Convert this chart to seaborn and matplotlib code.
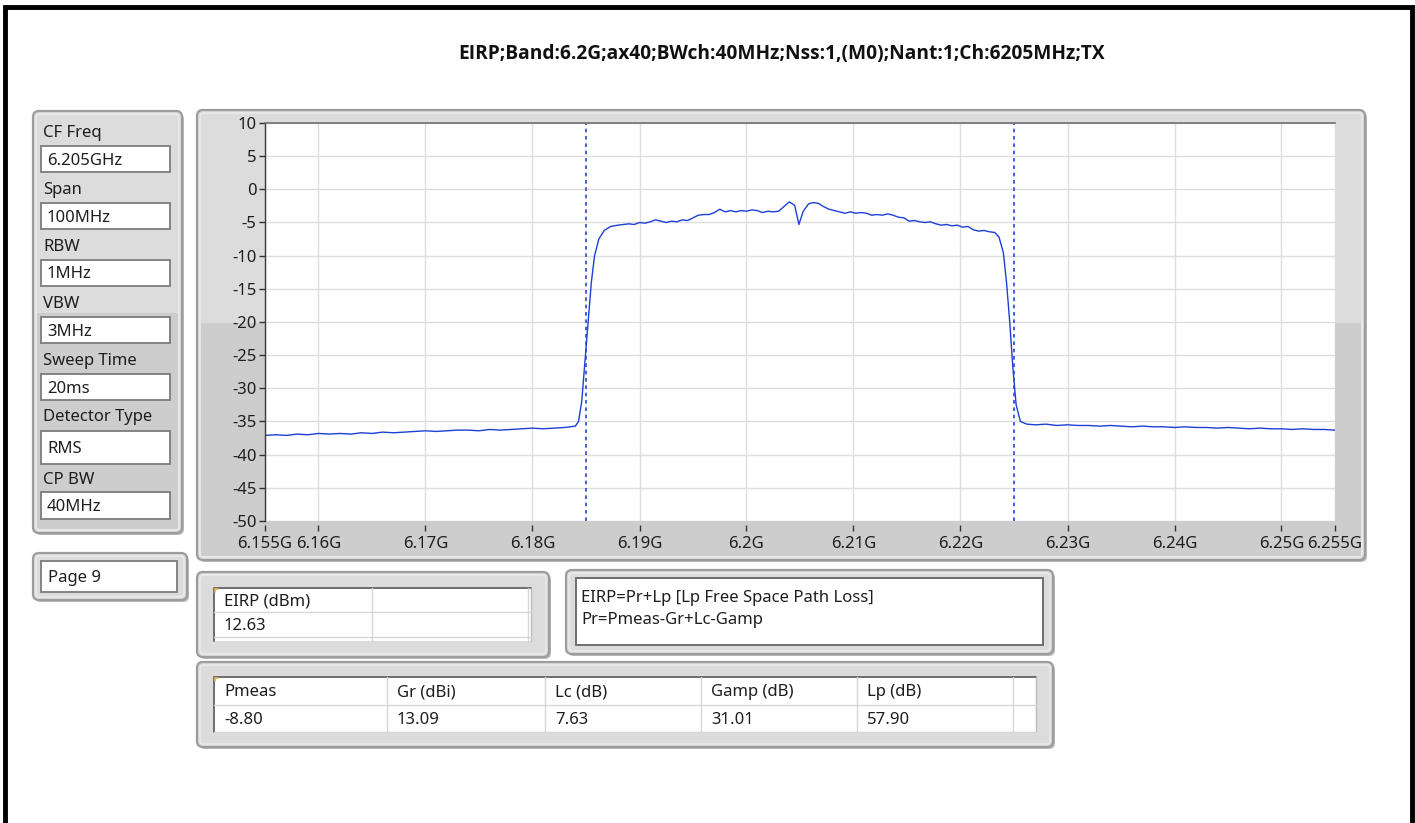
import pandas as pd
import seaborn as sns
import matplotlib.pyplot as plt
from matplotlib.patches import FancyBboxPatch, Rectangle

# ---- data ----
title = "EIRP;Band:6.2G;ax40;BWch:40MHz;Nss:1,(M0);Nant:1;Ch:6205MHz;TX"

param_labels = ["CF Freq", "Span", "RBW", "VBW", "Sweep Time", "Detector Type", "CP BW"]
param_values = ["6.205GHz", "100MHz", "1MHz", "3MHz", "20ms", "RMS", "40MHz"]
page_label = "Page 9"

eirp_header = ["EIRP (dBm)", ""]
eirp_values = ["12.63", ""]
formula_lines = ["EIRP=Pr+Lp [Lp Free Space Path Loss]", "Pr=Pmeas-Gr+Lc-Gamp"]
budget_header = ["Pmeas", "Gr (dBi)", "Lc (dB)", "Gamp (dB)", "Lp (dB)", ""]
budget_values = ["-8.80", "13.09", "7.63", "31.01", "57.90", ""]

y_ticks = [10, 5, 0, -5, -10, -15, -20, -25, -30, -35, -40, -45, -50]
x_ticks = [6.155, 6.16, 6.17, 6.18, 6.19, 6.2, 6.21, 6.22, 6.23, 6.24, 6.25, 6.255]
x_labels = ["6.155G", "6.16G", "6.17G", "6.18G", "6.19G", "6.2G", "6.21G",
            "6.22G", "6.23G", "6.24G", "6.25G", "6.255G"]
channel_edges = [6.185, 6.225]

# spectrum trace (GHz, dBm)
trace_freq = [
    6.155, 6.156, 6.157, 6.158, 6.159, 6.160, 6.161, 6.162, 6.163, 6.164,
    6.165, 6.166, 6.167, 6.168, 6.169, 6.170, 6.171, 6.172, 6.173, 6.174,
    6.175, 6.176, 6.177, 6.178, 6.179, 6.180, 6.181, 6.182, 6.183, 6.184,
    6.1843, 6.1846, 6.1849, 6.1852, 6.1855, 6.1858, 6.1862, 6.1867, 6.1873,
    6.1880, 6.1885, 6.1890, 6.1895, 6.1900, 6.1905, 6.1910, 6.1915, 6.1920, 6.1925,
    6.1930, 6.1935, 6.1940, 6.1945, 6.1950, 6.1955, 6.1960, 6.1965, 6.1970, 6.1975,
    6.1980, 6.1985, 6.1990, 6.1995, 6.2000, 6.2005, 6.2010, 6.2015, 6.2020, 6.2025,
    6.2030, 6.2035, 6.2040, 6.2045, 6.2049, 6.2053, 6.2058, 6.2062, 6.2067, 6.2072,
    6.2077, 6.2082, 6.2087, 6.2092, 6.2097, 6.2102, 6.2107, 6.2112, 6.2117, 6.2122,
    6.2127, 6.2132, 6.2137, 6.2142, 6.2147, 6.2152, 6.2157, 6.2162, 6.2167, 6.2172,
    6.2177, 6.2182, 6.2187, 6.2192, 6.2197, 6.2202, 6.2207, 6.2212, 6.2217, 6.2222,
    6.2227, 6.2232, 6.2236,
    6.2240, 6.2243, 6.2246, 6.2249, 6.2252, 6.2256, 6.2262,
    6.227, 6.228, 6.229, 6.230, 6.231, 6.232, 6.233, 6.234, 6.235, 6.236,
    6.237, 6.238, 6.239, 6.240, 6.241, 6.242, 6.243, 6.244, 6.245, 6.246,
    6.247, 6.248, 6.249, 6.250, 6.251, 6.252, 6.253, 6.254, 6.255,
]
trace_db = [
    -37.1, -37.0, -37.1, -36.9, -37.0, -36.8, -36.9, -36.8, -36.9, -36.7,
    -36.8, -36.6, -36.7, -36.6, -36.5, -36.4, -36.5, -36.4, -36.3, -36.3,
    -36.4, -36.2, -36.3, -36.2, -36.1, -36.0, -36.1, -36.0, -35.9, -35.7,
    -35.0, -32.0, -26.0, -20.0, -14.0, -10.0, -7.5, -6.2, -5.6,
    -5.4, -5.3, -5.2, -5.3, -5.0, -5.1, -4.9, -4.6, -4.8, -5.0,
    -4.8, -4.9, -4.6, -4.7, -4.3, -3.9, -3.8, -3.8, -3.5, -3.0,
    -3.4, -3.2, -3.4, -3.2, -3.3, -3.1, -3.2, -3.5, -3.3, -3.4,
    -3.3, -2.6, -1.9, -2.4, -5.3, -3.3, -2.2, -2.0, -2.1, -2.6,
    -3.0, -3.2, -3.4, -3.6, -3.4, -3.6, -3.5, -3.6, -3.9, -3.8,
    -3.9, -3.7, -3.9, -4.2, -4.3, -4.8, -4.7, -4.9, -5.0, -4.9,
    -5.2, -5.4, -5.3, -5.5, -5.4, -5.7, -5.6, -6.1, -6.3, -6.2,
    -6.4, -6.5, -7.2,
    -9.5, -14.0, -20.0, -27.0, -32.5, -35.0, -35.4,
    -35.5, -35.4, -35.6, -35.5, -35.6, -35.6, -35.7, -35.6, -35.7, -35.8,
    -35.7, -35.8, -35.8, -35.9, -35.8, -35.9, -35.9, -36.0, -35.9, -36.0,
    -36.1, -36.0, -36.1, -36.1, -36.2, -36.1, -36.2, -36.2, -36.3,
]

df = pd.DataFrame({"freq": trace_freq, "level": trace_db})

# ---- figure, pixel based background layer ----
W, H = 1415, 823
sns.set_theme(style="white")
plt.rcParams["font.family"] = ["Noto Sans", "DejaVu Sans"]
TXT = "#1e1e1e"
FS = 12.0
DY = 1.5  # nudge text down a little to sit like the original

fig = plt.figure(figsize=(W / 100, H / 100), dpi=100)
fig.patch.set_facecolor("white")
bg = fig.add_axes([0, 0, 1, 1])
bg.set_xlim(0, W)
bg.set_ylim(H, 0)
bg.axis("off")


def panel(x0, y0, x1, y1, split=None):
    bg.add_patch(FancyBboxPatch((x0 + 2, y0 + 2), x1 - x0, y1 - y0,
                                boxstyle="round,pad=0,rounding_size=6",
                                fc="#b9b9b9", ec="none"))
    bg.add_patch(FancyBboxPatch((x0, y0), x1 - x0, y1 - y0,
                                boxstyle="round,pad=0,rounding_size=6",
                                fc="#dcdcdc", ec="#9c9c9c", lw=1.6))
    if split is not None:
        bg.add_patch(Rectangle((x0 + 4, split), x1 - x0 - 8, y1 - split - 4,
                               fc="#cdcdcd", ec="none"))
    bg.add_patch(FancyBboxPatch((x0 + 3, y0 + 3), x1 - x0 - 6, y1 - y0 - 6,
                                boxstyle="round,pad=0,rounding_size=4",
                                fc="none", ec="#ececec", lw=1.0))


def field(x0, y0, x1, y1):
    bg.add_patch(Rectangle((x0, y0), x1 - x0, y1 - y0, fc="white", ec="#7c7c7c", lw=1.3))


def table(x0, y0, x1, y1, cols, rows, header, values):
    bg.add_patch(Rectangle((x0, y0), x1 - x0, y1 - y0, fc="white", ec="none"))
    bg.plot([x0, x0, x1], [y1, y0, y0], color="#6e6e6e", lw=1.4)
    bg.plot([x1, x1], [y0, y1], color="#bdbdbd", lw=1.0)
    for c in cols:
        bg.plot([c, c], [y0, y1], color="#d6d6d6", lw=1.0)
    for r in rows:
        bg.plot([x0, x1], [r, r], color="#d6d6d6", lw=1.0)
    bg.plot([x0 + 1, x0 + 4], [y0 + 1, y0 + 1], color="#e8b040", lw=1.2)
    bg.plot([x0 + 1, x0 + 1], [y0 + 1, y0 + 4], color="#e8b040", lw=1.2)
    starts = [x0] + cols
    ty = [(y0 + rows[0]) / 2, (rows[0] + rows[1]) / 2]
    for i, (h, v) in enumerate(zip(header, values)):
        bg.text(starts[i] + 10, ty[0] + DY, h, fontsize=FS, color=TXT, va="center")
        bg.text(starts[i] + 10, ty[1] + DY, v, fontsize=FS, color=TXT, va="center")


# outer black frame of the screenshot
bg.plot([5, 5, 1411.5, 1411.5], [H, 7, 7, H], color="black", lw=3.5, solid_joinstyle="miter")

# title
bg.text(782, 54, title, fontsize=13.8, fontweight="bold", color="#111111",
        ha="center", va="center", family=["Open Sans", "Liberation Sans", "DejaVu Sans"])

# left parameter panel
panel(33, 111, 182, 533, split=313)
label_y = [131, 188, 245, 302, 359, 415, 478]
box_y = [(146, 172), (203, 229), (260, 286), (317, 343), (374, 400), (431, 464), (492, 519)]
for lab, val, ly, (b0, b1) in zip(param_labels, param_values, label_y, box_y):
    bg.text(43, ly + DY, lab, fontsize=FS, color=TXT, va="center")
    field(41, b0, 170, b1)
    bg.text(47, (b0 + b1) / 2 + DY, val, fontsize=FS, color=TXT, va="center")

# page panel
panel(33, 553, 187, 600)
field(41, 561, 177, 592)
bg.text(48, 577 + DY, page_label, fontsize=FS, color=TXT, va="center")

# chart panel
panel(197, 110, 1365, 560, split=323)
bg.add_patch(Rectangle((201, 521), 1160, 35, fc="#cdcdcd", ec="none"))

# EIRP table panel
panel(197, 572, 549, 657)
table(214, 588, 531, 641, [372], [612, 637], eirp_header, eirp_values)
bg.plot([528, 528], [588, 641], color="#d6d6d6", lw=1.0)

# formula panel
panel(566, 570, 1053, 654)
bg.add_patch(Rectangle((576, 578), 467, 67, fc="white", ec="#6e6e6e", lw=1.4))
bg.text(581, 596 + DY, formula_lines[0], fontsize=FS, color=TXT, va="center")
bg.text(581, 618 + DY, formula_lines[1], fontsize=FS, color=TXT, va="center")

# link budget table panel
panel(197, 662, 1053, 747)
table(214, 677, 1036, 732, [387, 545, 701, 857, 1013], [705, 732],
      budget_header, budget_values)

# ---- spectrum chart ----
ax = fig.add_axes([265 / W, 1 - 521 / H, (1335 - 265) / W, (521 - 123) / H])
ax.set_facecolor("white")
ax.set_axisbelow(True)
ax.grid(True, color="#dedede", lw=1.0)
sns.lineplot(data=df, x="freq", y="level", ax=ax, color="#1d3fd6", lw=1.0)
for edge in channel_edges:
    ax.axvline(edge, color="#2447d8", lw=1.2, ls=(0, (2.2, 2.2)))

ax.set_xlim(6.155, 6.255)
ax.set_ylim(-50, 10)
ax.set_yticks(y_ticks)
ax.set_yticklabels([str(t) for t in y_ticks])
ax.set_xticks(x_ticks)
ax.set_xticklabels(x_labels)
ax.set_xlabel("")
ax.set_ylabel("")
ax.spines["right"].set_visible(False)
ax.spines["bottom"].set_position(("outward", 3))
ax.spines["bottom"].set_visible(False)
ax.spines["left"].set_color("#3a3a3a")
ax.spines["left"].set_linewidth(1.0)
ax.spines["top"].set_color("#707070")
ax.spines["top"].set_linewidth(1.2)
ax.tick_params(axis="y", which="both", left=True, length=4.5, width=1.0,
               color="#333333", pad=1.5, labelsize=FS, labelcolor=TXT)
ax.tick_params(axis="x", which="both", bottom=True, length=4.5, width=1.0,
               color="#333333", pad=3.0, labelsize=FS, labelcolor=TXT)

fig.savefig("out.png", dpi=100, facecolor="white")
